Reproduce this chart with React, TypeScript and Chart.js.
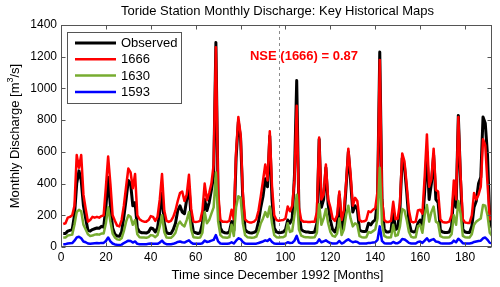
import React, { useEffect, useRef } from 'react';
import { Chart, registerables } from 'chart.js';

Chart.register(...registerables);

// Monthly discharge values [m^3/s], months 1..192 since December 1992
const OBSERVED = [
  85, 85, 100, 105, 110, 200, 400, 480, 420, 260, 180, 105,
  100, 110, 115, 120, 118, 130, 125, 250, 440, 260, 120, 80,
  70, 68, 95, 190, 300, 420, 400, 260, 280, 120, 95, 90,
  90, 88, 95, 120, 115, 95, 120, 220, 340, 150, 90, 85,
  85, 110, 150, 230, 260, 220, 210, 300, 380, 180, 95, 90,
  85, 90, 150, 300, 230, 280, 360, 450, 1290, 300, 120, 95,
  90, 88, 95, 160, 105, 560, 790, 690, 300, 110, 95, 90,
  88, 92, 100, 160, 250, 320, 430, 380, 700, 300, 120, 95,
  90, 92, 95, 110, 170, 150, 180, 450, 1050, 220, 110, 100,
  95, 95, 92, 92, 95, 150, 680, 250, 300, 500, 270, 170,
  110, 95, 130, 330, 110, 170, 380, 600, 420, 220, 260, 240,
  105, 100, 98, 100, 150, 140, 160, 170, 300, 1230, 300, 110,
  95, 95, 100, 230, 110, 120, 240, 560, 510, 350, 160, 100,
  95, 98, 150, 170, 140, 350, 600, 300, 400, 580, 300, 280,
  105, 95, 92, 92, 95, 130, 350, 250, 830, 420, 110, 95,
  92, 92, 130, 250, 290, 400, 440, 820, 780, 580, 180, 120,
];

const MAP_1666 = [
  145, 150, 185, 190, 200, 260, 580, 500, 580, 330, 240, 160,
  170, 190, 185, 190, 185, 195, 200, 380, 570, 400, 200, 165,
  135, 130, 170, 260, 380, 495, 470, 370, 460, 200, 175, 165,
  160, 160, 170, 195, 190, 165, 190, 300, 460, 230, 165, 158,
  165, 190, 230, 290, 340, 350, 290, 330, 455, 240, 160, 158,
  160, 165, 230, 400, 295, 340, 400, 520, 1260, 350, 170, 160,
  160, 158, 165, 235, 175, 600, 820, 710, 340, 175, 160, 155,
  155, 160, 175, 230, 320, 420, 520, 420, 730, 380, 200, 170,
  165, 168, 170, 180, 255, 225, 260, 420, 890, 250, 170, 160,
  160, 158, 158, 160, 160, 220, 690, 300, 330, 520, 300, 250,
  180, 165, 200, 350, 170, 230, 400, 620, 460, 260, 310, 290,
  170, 160, 162, 170, 225, 220, 235, 245, 350, 1180, 300, 170,
  158, 158, 165, 285, 175, 180, 280, 590, 540, 390, 230, 160,
  155, 160, 230, 235, 210, 440, 710, 380, 430, 620, 360, 350,
  175, 158, 155, 155, 160, 200, 420, 300, 820, 450, 175, 155,
  152, 152, 200, 340, 300, 330, 380, 680, 640, 400, 175, 180,
];

const MAP_1630 = [
  60, 60, 72, 75, 78, 140, 220, 235, 225, 140, 110, 80,
  70, 72, 78, 80, 78, 85, 85, 150, 250, 160, 85, 60,
  48, 45, 55, 100, 160, 200, 190, 140, 170, 80, 62, 60,
  60, 58, 62, 75, 72, 62, 75, 130, 200, 95, 60, 58,
  58, 70, 90, 140, 160, 140, 130, 170, 220, 110, 62, 60,
  58, 60, 90, 220, 150, 170, 210, 250, 470, 160, 75, 62,
  60, 58, 62, 140, 70, 250, 320, 310, 150, 75, 62, 60,
  58, 60, 65, 100, 150, 180, 220, 190, 255, 150, 75, 62,
  60, 62, 62, 70, 150, 95, 100, 200, 330, 110, 72, 65,
  62, 62, 60, 60, 62, 90, 270, 140, 180, 240, 150, 95,
  70, 65, 85, 180, 75, 110, 200, 260, 180, 130, 150, 140,
  68, 62, 60, 62, 95, 90, 100, 110, 180, 500, 150, 70,
  62, 60, 62, 140, 70, 75, 130, 240, 230, 170, 95, 64,
  60, 62, 130, 140, 90, 200, 265, 160, 220, 255, 160, 150,
  68, 62, 60, 60, 62, 80, 200, 140, 290, 210, 70, 62,
  60, 60, 80, 140, 160, 170, 180, 265, 260, 200, 90, 70,
];

const MAP_1593 = [
  18, 18, 22, 24, 25, 40, 60, 65, 55, 35, 30, 22,
  20, 22, 24, 25, 24, 26, 26, 38, 60, 35, 22, 16,
  14, 13, 15, 25, 32, 40, 38, 28, 35, 20, 17, 18,
  18, 18, 20, 22, 21, 20, 20, 28, 40, 24, 18, 18,
  18, 20, 25, 32, 35, 30, 28, 35, 42, 28, 20, 20,
  20, 20, 24, 40, 32, 35, 40, 45, 75, 35, 22, 20,
  20, 20, 22, 30, 22, 40, 55, 50, 32, 22, 20, 20,
  20, 20, 21, 25, 30, 35, 42, 38, 50, 32, 22, 20,
  20, 20, 21, 22, 30, 25, 26, 40, 70, 28, 22, 22,
  22, 22, 22, 22, 22, 26, 48, 30, 36, 42, 32, 25,
  22, 22, 24, 38, 22, 28, 40, 48, 38, 30, 34, 32,
  22, 22, 22, 22, 26, 26, 28, 30, 45, 130, 38, 24,
  22, 22, 22, 32, 24, 24, 32, 50, 48, 38, 26, 22,
  22, 22, 32, 34, 26, 40, 55, 36, 45, 50, 34, 32,
  24, 22, 22, 22, 22, 25, 40, 30, 52, 40, 24, 22,
  22, 22, 25, 32, 35, 38, 40, 55, 60, 45, 26, 24,
];

const SERIES_NAMES = ['Observed', '1666', '1630', '1593'];
const SERIES_COLORS = ['#000000', '#ff0000', '#77ac30', '#0000ff'];
const SERIES_WIDTHS = [3, 2.5, 2.5, 2.5];
const X_MIN = 0;
const X_MAX = 192;
const X_TICKS = [0, 20, 40, 60, 80, 100, 120, 140, 160, 180];
const Y_MIN = 0;
const Y_MAX = 1400;
const Y_TICKS = [0, 200, 400, 600, 800, 1000, 1200, 1400];
const SPLIT_MONTH = 97;
const TITLE = 'Toride Station Monthly Discharge: Key Historical Maps';
const X_TITLE = 'Time since December 1992 [Months]';
const Y_TITLE_PARTS = ['Monthly Discharge [m', '3', '/s]'];
const NSE_TEXT = 'NSE (1666) = 0.87';

const FONT = '"Liberation Sans", Arial, Helvetica, sans-serif';
const AXIS_COLOR = '#555555';

const toPoints = (arr: number[]) => arr.map((v, i) => ({ x: i + 1, y: v }));

const decorPlugin = {
  id: 'decor',
  beforeDatasetsDraw(chart: any) {
    const { ctx, chartArea: a, scales } = chart;
    const px = Math.round(scales.x.getPixelForValue(SPLIT_MONTH)) + 0.5;
    ctx.save();
    ctx.strokeStyle = '#8c8c8c';
    ctx.lineWidth = 1;
    ctx.setLineDash([3, 3]);
    ctx.beginPath();
    ctx.moveTo(px, a.top);
    ctx.lineTo(px, a.bottom);
    ctx.stroke();
    ctx.restore();
  },
  afterDatasetsDraw(chart: any) {
    const { ctx, chartArea: a, scales } = chart;
    ctx.save();
    ctx.strokeStyle = AXIS_COLOR;
    ctx.lineWidth = 1;
    const l = Math.round(a.left) + 0.5;
    const r = Math.round(a.right) - 0.5;
    const t = Math.round(a.top) + 0.5;
    const b = Math.round(a.bottom) - 0.5;
    ctx.strokeRect(l, t, r - l, b - t);
    const tl = 4;
    ctx.beginPath();
    scales.x.ticks.forEach((tk: any) => {
      const p = Math.round(scales.x.getPixelForValue(tk.value)) + 0.5;
      ctx.moveTo(p, b);
      ctx.lineTo(p, b - tl);
      ctx.moveTo(p, t);
      ctx.lineTo(p, t + tl);
    });
    scales.y.ticks.forEach((tk: any) => {
      const p = Math.round(scales.y.getPixelForValue(tk.value)) + 0.5;
      ctx.moveTo(l, p);
      ctx.lineTo(l + tl, p);
      ctx.moveTo(r, p);
      ctx.lineTo(r - tl, p);
    });
    ctx.stroke();

    // legend
    const lx = 67.5, ly = 32.5, lw = 114, lh = 71;
    ctx.fillStyle = '#ffffff';
    ctx.fillRect(lx, ly, lw, lh);
    ctx.strokeStyle = AXIS_COLOR;
    ctx.strokeRect(lx, ly, lw, lh);
    ctx.font = `13px ${FONT}`;
    ctx.textBaseline = 'middle';
    ctx.textAlign = 'left';
    SERIES_NAMES.forEach((name, i) => {
      const yy = 43 + i * 16.3;
      ctx.strokeStyle = SERIES_COLORS[i];
      ctx.lineWidth = SERIES_WIDTHS[i];
      ctx.beginPath();
      ctx.moveTo(75, yy);
      ctx.lineTo(116, yy);
      ctx.stroke();
      ctx.fillStyle = '#000';
      ctx.fillText(name, 121, yy + 0.5);
    });

    ctx.font = `bold 13px ${FONT}`;
    ctx.fillStyle = '#ff0000';
    ctx.textAlign = 'center';
    ctx.fillText(NSE_TEXT, 304, 56);
    ctx.restore();
  },
  afterDraw(chart: any) {
    const { ctx, chartArea: a } = chart;
    ctx.save();
    ctx.fillStyle = '#000';
    ctx.textBaseline = 'middle';
    ctx.textAlign = 'center';
    ctx.font = `13px ${FONT}`;
    const cx = (a.left + a.right) / 2;
    ctx.fillText(TITLE, cx + 1, 11);
    ctx.fillText(X_TITLE, cx + 1, 275);
    ctx.translate(15, (a.top + a.bottom) / 2);
    ctx.rotate(-Math.PI / 2);
    ctx.textAlign = 'left';
    ctx.font = `13px ${FONT}`;
    const w1 = ctx.measureText(Y_TITLE_PARTS[0]).width;
    const w3 = ctx.measureText(Y_TITLE_PARTS[2]).width;
    ctx.font = `9px ${FONT}`;
    const w2 = ctx.measureText(Y_TITLE_PARTS[1]).width;
    const sx = -(w1 + w2 + w3) / 2;
    ctx.font = `13px ${FONT}`;
    ctx.fillText(Y_TITLE_PARTS[0], sx, 0);
    ctx.font = `9px ${FONT}`;
    ctx.fillText(Y_TITLE_PARTS[1], sx + w1, -4);
    ctx.font = `13px ${FONT}`;
    ctx.fillText(Y_TITLE_PARTS[2], sx + w1 + w2, 0);
    ctx.restore();
  },
};

export default function App() {
  const ref = useRef<HTMLCanvasElement | null>(null);
  useEffect(() => {
    if (!ref.current) return;
    const series = [OBSERVED, MAP_1666, MAP_1630, MAP_1593];
    const chart = new Chart(ref.current, {
      type: 'line',
      data: {
        datasets: series.map((arr, i) => ({
          label: SERIES_NAMES[i],
          data: toPoints(arr),
          borderColor: SERIES_COLORS[i],
          backgroundColor: SERIES_COLORS[i],
          borderWidth: SERIES_WIDTHS[i],
          pointRadius: 0,
          tension: 0,
          fill: false,
          order: 4 - i,
          borderJoinStyle: 'round' as const,
        })),
      },
      options: {
        responsive: false,
        animation: false,
        devicePixelRatio: 1,
        layout: { padding: { left: 0, right: 8, top: 25, bottom: 0 } },
        plugins: {
          legend: { display: false },
          tooltip: { enabled: false },
          title: { display: false },
        },
        scales: {
          x: {
            type: 'linear',
            min: X_MIN,
            max: X_MAX,
            grid: { display: false, drawTicks: false },
            border: { display: false },
            ticks: {
              padding: 3,
              color: '#000',
              maxRotation: 0,
              autoSkip: false,
              font: { family: FONT, size: 12 },
              callback: (v: any) => String(v),
            },
            afterBuildTicks: (s: any) => {
              s.ticks = X_TICKS.map((v) => ({ value: v }));
            },
            afterFit: (s: any) => {
              s.height = 40;
            },
          },
          y: {
            min: Y_MIN,
            max: Y_MAX,
            grid: { display: false, drawTicks: false },
            border: { display: false },
            ticks: {
              padding: 4,
              color: '#000',
              autoSkip: false,
              font: { family: FONT, size: 12 },
              callback: (v: any) => String(v),
            },
            afterBuildTicks: (s: any) => {
              s.ticks = Y_TICKS.map((v) => ({ value: v }));
            },
            afterFit: (s: any) => {
              s.width = 61;
            },
          },
        },
      },
      plugins: [decorPlugin],
    } as any);
    return () => chart.destroy();
  }, []);
  return (
    <div style={{ position: 'absolute', left: 0, top: 0, width: 500, height: 287, background: '#fff' }}>
      <canvas ref={ref} width={500} height={287} style={{ display: 'block' }} />
    </div>
  );
}
